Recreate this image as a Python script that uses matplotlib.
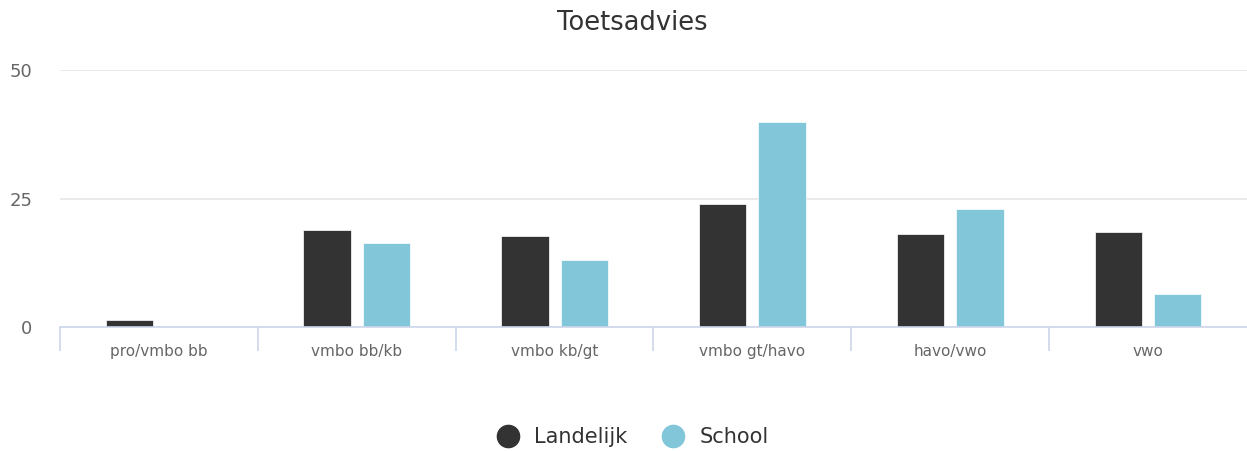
import matplotlib
matplotlib.use('Agg')
from matplotlib import pyplot as plt
from matplotlib.lines import Line2D
import numpy as np

plt.rcParams['font.family'] = ['DejaVu Sans']

# data
categories = ['pro/vmbo bb', 'vmbo bb/kb', 'vmbo kb/gt', 'vmbo gt/havo', 'havo/vwo', 'vwo']
landelijk = [1.4, 18.8, 17.7, 24.0, 18.0, 18.4]
school = [0, 16.3, 13.1, 39.9, 23.0, 6.4]
series_names = ['Landelijk', 'School']
colors = ['#333333', '#82c6d9']

fig = plt.figure(figsize=(12.47, 4.51), dpi=100)
ax = fig.add_axes([60/1247, 1-327/451, 1-60/1247, (327-70)/451])

x = np.arange(len(categories))
w = 0.24
ax.bar(x-0.15, landelijk, width=w, color=colors[0], edgecolor='white', linewidth=0.5, zorder=3)
ax.bar(x+0.15, school, width=w, color=colors[1], edgecolor='white', linewidth=0.5, zorder=3)

ax.set_xlim(-0.5, len(categories)-0.5)
ax.set_ylim(0, 50)
ax.set_yticks([0, 25, 50])
ax.yaxis.grid(True, color='#e6e6e6', linewidth=1.2, zorder=0)
ax.tick_params(axis='y', length=0, pad=20, labelsize=13, labelcolor='#666666')

# category labels + boundary ticks
ax.set_xticks(x)
ax.set_xticklabels(categories)
ax.tick_params(axis='x', which='major', length=0, pad=12, labelsize=11, labelcolor='#666666')
ax.set_xticks(np.arange(len(categories)) - 0.5, minor=True)
ax.tick_params(axis='x', which='minor', length=17, width=1.2, color='#ccd6eb')

for s in ['top', 'right', 'left']:
    ax.spines[s].set_visible(False)
ax.spines['bottom'].set_color('#ccd6eb')
ax.spines['bottom'].set_linewidth(1.2)
ax.spines['bottom'].set_zorder(4)

fig.text(632/1247, 1-23/451, 'Toetsadvies', ha='center', va='center', fontsize=18.5, color='#333333')

handles = [Line2D([0], [0], marker='o', linestyle='', markersize=16, color=c) for c in colors]
fig.legend(handles, series_names, loc='center', bbox_to_anchor=(628/1247, 1-437/451), ncol=2,
           frameon=False, fontsize=15, labelcolor='#333333', handletextpad=0.25, columnspacing=1.2)

fig.savefig('out.png', dpi=100)
